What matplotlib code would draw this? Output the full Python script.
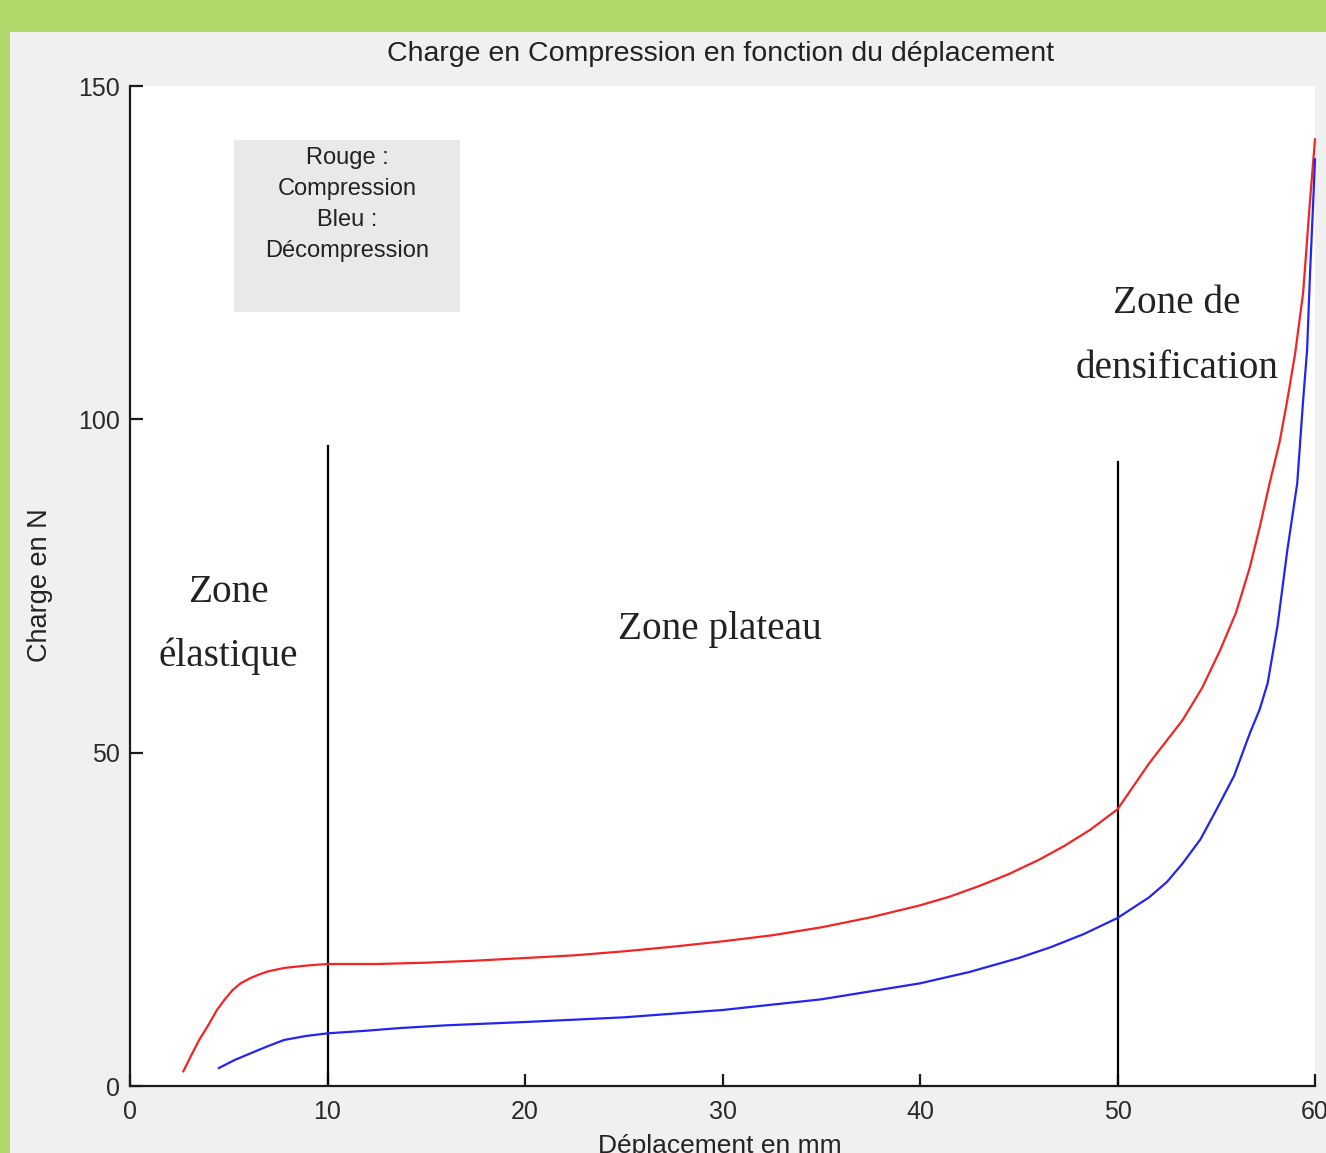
import matplotlib
matplotlib.use("Agg")
import matplotlib.pyplot as plt
from matplotlib.patches import Rectangle

# ---- data ----
red_x = [2.7, 3.1, 3.5, 4.0, 4.4, 4.8, 5.2, 5.6, 6.1, 6.6, 7.0, 7.8, 8.7, 9.5, 10, 12.5, 15, 17.5,
         20, 22.5, 25, 27.5, 30, 32.5, 35, 37.5, 40, 41.5, 43, 44.5, 46, 47.3, 48.6, 50, 51.6,
         53.3, 54.3, 55.2, 56.0, 56.7, 57.2, 57.7, 58.2, 58.6, 59.0, 59.4, 59.75, 60]
red_y = [2.2, 4.6, 6.9, 9.3, 11.4, 13.0, 14.4, 15.4, 16.2, 16.8, 17.2, 17.7, 18.0, 18.2, 18.3, 18.3,
         18.5, 18.8, 19.2, 19.6, 20.2, 20.9, 21.7, 22.6, 23.8, 25.3, 27.1, 28.4, 30.0, 31.8, 33.9,
         36.0, 38.4, 41.5, 48.4, 54.9, 59.8, 65.4, 71.0, 77.8, 83.8, 90.4, 96.5, 102.9, 110.0,
         119.0, 132.9, 142.0]

blue_x = [4.5, 5.3, 6.1, 7.0, 7.8, 8.9, 10, 12, 13.7, 16, 20, 25, 30, 35, 40, 42.5, 45, 46.6,
          48.3, 50, 51.6, 52.5, 53.3, 54.2, 55.0, 55.9, 56.7, 57.2, 57.6, 58.1, 58.6, 59.1, 59.4,
          59.6, 59.75, 59.9, 60]
blue_y = [2.7, 3.9, 4.9, 6.0, 6.9, 7.5, 7.9, 8.3, 8.7, 9.1, 9.6, 10.3, 11.4, 13.0, 15.4, 17.1, 19.2,
          20.8, 22.8, 25.2, 28.3, 30.6, 33.4, 37.0, 41.4, 46.5, 52.9, 56.5, 60.4, 69.0, 80.4, 90.4,
          102.9, 110.4, 122.0, 132.0, 139.0]

vline_x = [10, 50]
vline_top = [96, 93.6]

x_ticks = [0, 10, 20, 30, 40, 50, 60]
y_ticks = [0, 50, 100, 150]

title = "Charge en Compression en fonction du déplacement"
xlabel = "Déplacement en mm"
ylabel = "Charge en N"
legend_lines = ["Rouge :", "Compression", "Bleu :", "Décompression"]

W, H = 1326, 1153
fig = plt.figure(figsize=(W / 100, H / 100), dpi=100, facecolor="#b1d66a")

def fx(px):
    return px / W

def fy(py):
    return 1 - py / H

# light gray panel (MATLAB figure area)
fig.patches.append(Rectangle((fx(10), 0), 1 - fx(10), fy(32), transform=fig.transFigure,
                             facecolor="#f0f0f0", edgecolor="none", zorder=-10))

ax = fig.add_axes([fx(130), fy(1086), fx(1315) - fx(130), fy(86) - fy(1086)])
ax.set_zorder(1)
ax.set_facecolor("white")
ax.set_xlim(0, 60)
ax.set_ylim(0, 150)
for s in ["top", "right"]:
    ax.spines[s].set_visible(False)
for s in ["left", "bottom"]:
    ax.spines[s].set_linewidth(1.6)
    ax.spines[s].set_color("#1a1a1a")

sans = ["Liberation Sans", "DejaVu Sans"]
serif = ["Liberation Serif", "DejaVu Serif"]

ax.set_xticks(x_ticks)
ax.set_yticks(y_ticks)
ax.set_xticklabels([str(v) for v in x_ticks], fontsize=18, family=sans, color="#2a2a2a")
ax.set_yticklabels([str(v) for v in y_ticks], fontsize=18, family=sans, color="#2a2a2a")
ax.tick_params(direction="in", length=9, width=1.6, color="#1a1a1a")
ax.tick_params(axis="x", pad=10)
ax.tick_params(axis="y", pad=7)

ax.plot(red_x, red_y, color="#f22424", linewidth=1.6, clip_on=False, zorder=3)
ax.plot(blue_x, blue_y, color="#2424f2", linewidth=1.6, clip_on=False, zorder=3)

for xv, top in zip(vline_x, vline_top):
    ax.plot([xv, xv], [0, top], color="black", linewidth=1.6, zorder=2)

# legend-like box
ax.add_patch(Rectangle((5.27, 116.1), 16.7 - 5.27, 141.9 - 116.1, facecolor="#e9e9e9",
                       edgecolor="none", zorder=1))
for i, t in enumerate(legend_lines):
    fig.text(fx(347), fy(158 + 31 * i), t, ha="center", va="center", fontsize=17,
             family=sans, color="#222222", zorder=5)

# zone annotations
zkw = dict(ha="center", va="center", fontsize=28.3, family=serif, color="#222222", zorder=5)
fig.text(fx(228), fy(592), "Zone", **zkw)
fig.text(fx(228), fy(656), "élastique", **zkw)
fig.text(fx(720), fy(630), "Zone plateau", **zkw)
fig.text(fx(1177), fy(304), "Zone de", **zkw)
fig.text(fx(1177), fy(368), "densification", **zkw)

# title and axis labels
fig.text(fx(721), fy(54), title, ha="center", va="center", fontsize=20.5, family=sans, color="#222222")
fig.text(fx(720), fy(1146), xlabel, ha="center", va="center", fontsize=19, family=sans, color="#222222")
fig.text(fx(40), fy(585), ylabel, ha="center", va="center", rotation=90, fontsize=19.5,
         family=sans, color="#222222")

fig.savefig("out.png", dpi=100, facecolor=fig.get_facecolor())
